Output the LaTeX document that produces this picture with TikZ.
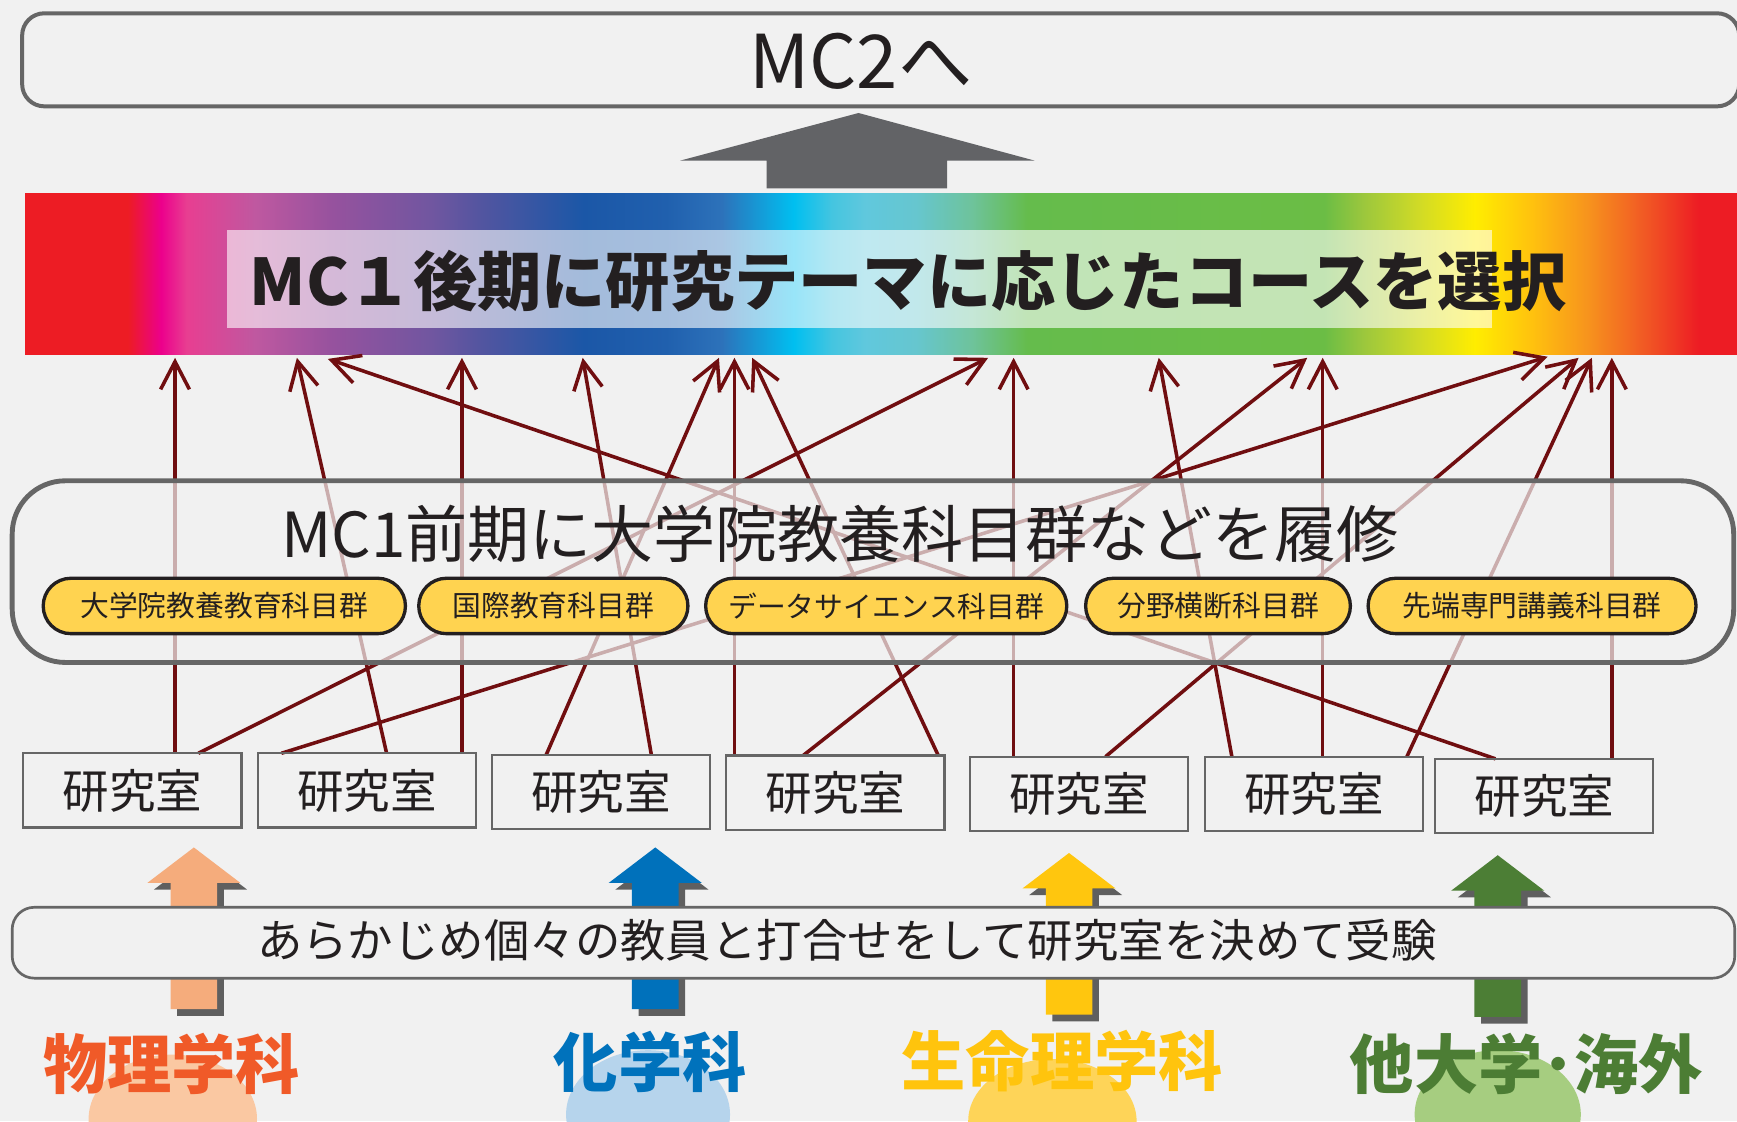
\documentclass[tikz,border=0pt]{standalone}
\usepackage{fontspec}
\setmainfont{Noto Sans CJK JP}
\usetikzlibrary{arrows.meta}
\definecolor{bg}{RGB}{241,241,241}
\definecolor{frameGray}{RGB}{102,102,102}
\definecolor{arrowGray}{RGB}{98,99,102}
\definecolor{lineRed}{RGB}{112,14,16}
\definecolor{pillFill}{RGB}{255,211,80}
\definecolor{pillLine}{RGB}{35,31,32}
\definecolor{txt}{RGB}{35,31,32}
\definecolor{shadowGray}{RGB}{95,95,95}
\definecolor{peach}{RGB}{245,172,124}
\definecolor{chemBlue}{RGB}{0,113,187}
\definecolor{lifeYellow}{RGB}{255,198,14}
\definecolor{otherGreen}{RGB}{76,126,53}
\definecolor{physText}{RGB}{240,90,40}
\definecolor{chemText}{RGB}{0,114,188}
\definecolor{lifeText}{RGB}{255,196,13}
\definecolor{otherText}{RGB}{76,125,52}
\definecolor{peachLight}{RGB}{250,200,162}
\definecolor{blueLight}{RGB}{182,212,236}
\definecolor{yellowLight}{RGB}{254,212,88}
\definecolor{greenLight}{RGB}{166,205,128}
% rainbow stops
\definecolor{rbA}{RGB}{237,28,36}
\definecolor{rbB}{RGB}{236,0,140}
\definecolor{rbC}{RGB}{232,62,145}
\definecolor{rbD}{RGB}{191,88,160}
\definecolor{rbE}{RGB}{150,82,158}
\definecolor{rbF}{RGB}{112,86,160}
\definecolor{rbG}{RGB}{81,85,160}
\definecolor{rbH}{RGB}{27,87,167}
\definecolor{rbI}{RGB}{32,96,174}
\definecolor{rbJ}{RGB}{45,114,186}
\definecolor{rbK}{RGB}{0,191,240}
\definecolor{rbL}{RGB}{69,197,224}
\definecolor{rbM}{RGB}{96,200,221}
\definecolor{rbN}{RGB}{102,198,207}
\definecolor{rbO}{RGB}{110,195,155}
\definecolor{rbP}{RGB}{101,188,76}
\definecolor{rbQ}{RGB}{107,189,69}
\definecolor{rbR}{RGB}{155,199,61}
\definecolor{rbS}{RGB}{209,219,38}
\definecolor{rbT}{RGB}{255,237,0}
\definecolor{rbU}{RGB}{255,194,14}
\definecolor{rbV}{RGB}{247,148,29}
\definecolor{rbW}{RGB}{241,90,36}
\pgfdeclarehorizontalshading{rainbowband}{73pt}{color(0pt)=(rbA); color(46.5pt)=(rbA); color(61.5pt)=(rbB); color(73pt)=(rbC); color(104pt)=(rbD); color(139pt)=(rbE); color(184pt)=(rbF); color(207pt)=(rbG); color(252pt)=(rbH); color(289.5pt)=(rbI); color(314.5pt)=(rbJ); color(347pt)=(rbK); color(364.5pt)=(rbL); color(379.5pt)=(rbM); color(402pt)=(rbN); color(427.5pt)=(rbO); color(452.5pt)=(rbP); color(586.5pt)=(rbQ); color(604pt)=(rbR); color(629.5pt)=(rbS); color(654.5pt)=(rbT); color(680pt)=(rbU); color(705pt)=(rbV); color(730.5pt)=(rbW); color(755.5pt)=(rbA); color(773pt)=(rbA)}
\begin{document}
\begin{tikzpicture}[x=0.5pt,y=-0.5pt,
  every node/.style={text=txt, inner sep=0pt},
  conn/.style={draw=lineRed, line width=1.6pt, line join=round, -{Straight Barb[length=12.5pt,width=13pt]}},
  labbox/.style={draw=frameGray, line width=1pt, minimum width=98.5pt, minimum height=33.5pt, font=\fontsize{21}{25}\selectfont},
  pill/.style={draw=pillLine, fill=pillFill, line width=1.5pt, rounded corners=12.5pt, minimum height=25pt, font=\fontsize{13}{16}\selectfont},
  dept/.style={font=\bfseries\fontsize{29}{34}\selectfont}
]
\useasboundingbox (0,0) rectangle (1568,1012);
\clip (0,0) rectangle (1568,1012);
\fill[bg] (0,0) rectangle (1568,1012);

% top box
\node[draw=frameGray, line width=1.8pt, rounded corners=10pt, minimum width=775pt, minimum height=42pt] (mc2box) at (795,54) {};
\node[font=\fontsize{33.5}{40}\selectfont] (mc2) at (777,55) {MC2へ};

% big gray arrow
\fill[arrowGray] (614,145) -- (775,102) -- (934,145) -- (855,145) -- (855,170) -- (692,170) -- (692,145) -- cycle;

% rainbow band
\node[anchor=north west] (band) at (22,174) {\pgfuseshading{rainbowband}};
\fill[white, opacity=0.6] (205,208) rectangle (1347,296);
\node[anchor=west, font=\bfseries\fontsize{29}{34}\selectfont] (bandtxt) at (225,254) {MC１後期に研究テーマに応じたコースを選択};

% connector end points
\coordinate (s1) at (158,680);  \coordinate (e1) at (158,323);
\coordinate (s2) at (179,680);  \coordinate (e2) at (892,323);
\coordinate (s3) at (254,680);  \coordinate (e3) at (1397,322);
\coordinate (s4) at (349,680);  \coordinate (e4) at (268,323);
\coordinate (s5) at (417,680);  \coordinate (e5) at (417,323);
\coordinate (s6) at (493,681.5);  \coordinate (e6) at (649,323);
\coordinate (s7) at (588,681.5);  \coordinate (e7) at (526,323);
\coordinate (s8) at (663,682);  \coordinate (e8) at (663,323);
\coordinate (s9) at (725,682);  \coordinate (e9) at (1180,323);
\coordinate (s10) at (847,682); \coordinate (e10) at (679,323);
\coordinate (s11) at (915,683); \coordinate (e11) at (915,323);
\coordinate (s12) at (998,683); \coordinate (e12) at (1425,323);
\coordinate (s13) at (1112,683); \coordinate (e13) at (1046,323);
\coordinate (s14) at (1194,683); \coordinate (e14) at (1194,323);
\coordinate (s15) at (1270,683); \coordinate (e15) at (1437,323);
\coordinate (s16) at (1350,685); \coordinate (e16) at (296,324);
\coordinate (s17) at (1455,685); \coordinate (e17) at (1455,323);
\foreach \i in {1,...,17} \draw[conn] (s\i) -- (e\i);

% middle box
\node[draw=frameGray, line width=2.2pt, rounded corners=24pt, fill=bg, fill opacity=0.7, minimum width=777pt, minimum height=82pt] (mid) at (788,516) {};
\node[font=\fontsize{28}{34}\selectfont] (midtxt) at (758,482) {MC1前期に大学院教養科目群などを履修};

% pills
\node[pill, minimum width=163.5pt] (p1) at (202.5,547) {大学院教養教育科目群};
\node[pill, minimum width=121.5pt] (p2) at (499.5,547) {国際教育科目群};
\node[pill, minimum width=163pt] (p3) at (800,547) {データサイエンス科目群};
\node[pill, minimum width=119.5pt] (p4) at (1099.5,547) {分野横断科目群};
\node[pill, minimum width=148pt] (p5) at (1383,547) {先端専門講義科目群};

% labs
\node[labbox] (lab1) at (119.5,713.5) {研究室};
\node[labbox] (lab2) at (331.5,713.5) {研究室};
\node[labbox] (lab3) at (542.5,715) {研究室};
\node[labbox] (lab4) at (754,715.5) {研究室};
\node[labbox] (lab5) at (974,716.5) {研究室};
\node[labbox] (lab6) at (1186,716.5) {研究室};
\node[labbox] (lab7) at (1394,718.5) {研究室};

% block arrows with shadows
\foreach \x/\y/\c in {175/765/peach, 591.5/765/chemBlue, 965/770/lifeYellow, 1352/772/otherGreen}{
  \begin{scope}[shift={(\x+6,\y+6)}]
    \fill[shadowGray] (0,0) -- (42,32) -- (21,32) -- (21,146) -- (-21,146) -- (-21,32) -- (-42,32) -- cycle;
  \end{scope}
  \begin{scope}[shift={(\x,\y)}]
    \fill[\c] (0,0) -- (42,32) -- (21,32) -- (21,146) -- (-21,146) -- (-21,32) -- (-42,32) -- cycle;
  \end{scope}
}

% bottom box
\node[draw=frameGray, line width=1.2pt, rounded corners=10pt, fill=bg, minimum width=777.5pt, minimum height=32pt] (exam) at (788.5,851) {};
\node[font=\fontsize{20.5}{25}\selectfont] (examtxt) at (764.5,849) {あらかじめ個々の教員と打合せをして研究室を決めて受験};

% ellipses
\fill[peachLight] (156,1010) ellipse [x radius=38pt, y radius=29pt];
\fill[blueLight] (585,1006) ellipse [x radius=37pt, y radius=29pt];
\fill[yellowLight] (950,1012) ellipse [x radius=38pt, y radius=28pt];
\fill[greenLight] (1352,1006) ellipse [x radius=37.5pt, y radius=29pt];

% department labels
\node[dept, text=physText] (phys) at (155,960) {物理学科};
\node[dept, text=chemText] (chem) at (587,959) {化学科};
\node[dept, text=lifeText] (life) at (959,958) {生命理学科};
\node[dept, text=otherText] (other) at (1378,960) {他大学･海外};
\end{tikzpicture}
\end{document}
